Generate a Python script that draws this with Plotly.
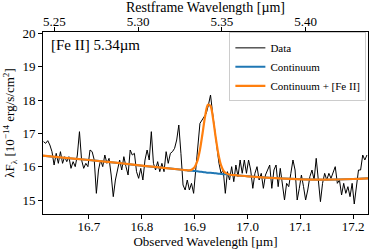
import plotly.graph_objects as go

# Observed wavelength grid [µm]
wave = [
    16.614, 16.618, 16.622, 16.626, 16.630, 16.634, 16.638, 16.642, 16.646, 16.650,
    16.654, 16.658, 16.662, 16.666, 16.670, 16.674, 16.678, 16.682, 16.686, 16.690,
    16.694, 16.698, 16.702, 16.706, 16.710, 16.714, 16.718, 16.722, 16.726, 16.730,
    16.734, 16.738, 16.742, 16.746, 16.750, 16.754, 16.758, 16.762, 16.766, 16.770,
    16.774, 16.778, 16.782, 16.786, 16.790, 16.794, 16.798, 16.802, 16.806, 16.810,
    16.814, 16.818, 16.822, 16.826, 16.830, 16.834, 16.838, 16.842, 16.846, 16.850,
    16.854, 16.858, 16.862, 16.866, 16.870, 16.874, 16.878, 16.882, 16.886, 16.890,
    16.894, 16.898, 16.902, 16.906, 16.910, 16.914, 16.918, 16.922, 16.926, 16.930,
    16.934, 16.938, 16.942, 16.946, 16.950, 16.954, 16.958, 16.962, 16.966, 16.970,
    16.974, 16.978, 16.982, 16.986, 16.990, 16.994, 16.998, 17.002, 17.006, 17.010,
    17.014, 17.018, 17.022, 17.026, 17.030, 17.034, 17.038, 17.042, 17.046, 17.050,
    17.054, 17.058, 17.062, 17.066, 17.070, 17.074, 17.078, 17.082, 17.086, 17.090,
    17.094, 17.098, 17.102, 17.106, 17.110, 17.114, 17.118, 17.122, 17.126, 17.130,
    17.134, 17.138, 17.142, 17.146, 17.150, 17.154, 17.158, 17.162, 17.166, 17.170,
    17.174, 17.178, 17.182, 17.186, 17.190, 17.194, 17.198, 17.202, 17.206, 17.210,
    17.214, 17.218, 17.222, 17.226,
]

# Observed flux  λF_λ [1e-14 erg/s/cm^2]
flux = [
    16.75, 16.70, 16.78, 16.65, 16.45, 16.05, 16.40, 16.10, 16.45, 16.10,
    16.30, 16.15, 16.30, 15.95, 16.15, 16.00, 16.35, 17.05, 16.20, 15.95,
    16.10, 16.00, 16.50, 16.45, 16.20, 15.20, 15.90, 16.20, 16.00, 16.35,
    16.10, 16.25, 15.75, 15.10, 15.60, 15.95, 16.20, 15.90, 16.30, 16.00,
    15.75, 16.50, 16.35, 16.40, 15.85, 15.65, 15.95, 15.60, 16.20, 16.50,
    16.20, 17.05, 16.10, 15.90, 16.15, 15.85, 16.10, 15.85, 16.45, 16.10,
    16.40, 16.45, 16.55, 16.80, 17.25, 16.40, 15.45, 15.30, 15.60, 15.30,
    15.50, 15.20, 15.90, 16.80, 17.30, 17.40, 17.50, 17.60, 17.85, 18.15,
    17.60, 17.00, 16.60, 16.10, 15.80, 15.90, 15.20, 15.85, 15.60, 16.00,
    15.55, 16.05, 15.70, 16.20, 15.80, 16.20, 15.80, 16.20, 15.90, 15.35,
    15.80, 16.00, 15.60, 15.80, 15.35, 15.75, 15.90, 16.05, 15.35, 15.90,
    16.05, 15.40, 15.95, 15.40, 15.00, 15.50, 15.40, 15.80, 16.20, 15.90,
    15.00, 15.35, 15.75, 15.40, 15.00, 15.30, 15.70, 15.90, 15.60, 16.25,
    15.60, 14.95, 15.50, 15.80, 15.60, 15.80, 15.65, 15.85, 16.00, 15.50,
    15.60, 15.15, 15.50, 15.20, 15.40, 15.10, 15.50, 14.88, 15.40, 15.90,
    15.90, 16.35, 16.20, 16.35,
]

# Model grid and fitted components
model_wave = [
    16.613, 16.65, 16.70, 16.75, 16.80, 16.85, 16.88,
    16.885, 16.89, 16.895, 16.90, 16.905, 16.91, 16.915, 16.92, 16.925,
    16.93, 16.935, 16.94, 16.945, 16.95, 16.955, 16.96, 16.965, 16.97,
    16.98, 17.00, 17.05, 17.10, 17.15, 17.20, 17.228,
]
continuum = [
    16.33, 16.27, 16.20, 16.12, 16.03, 15.95, 15.90,
    15.89, 15.88, 15.88, 15.87, 15.86, 15.85, 15.84, 15.83, 15.82,
    15.82, 15.81, 15.80, 15.79, 15.78, 15.77, 15.77, 15.76, 15.75,
    15.74, 15.71, 15.66, 15.62, 15.61, 15.63, 15.65,
]
fe_line = [
    0.0, 0.0, 0.0, 0.0, 0.0, 0.0, 0.0,
    0.002, 0.009, 0.036, 0.116, 0.306, 0.66, 1.17, 1.705, 2.04,
    2.0, 1.61, 1.06, 0.575, 0.256, 0.093, 0.028, 0.007, 0.0,
    0.0, 0.0, 0.0, 0.0, 0.0, 0.0, 0.0,
]
total = [c + f for c, f in zip(continuum, fe_line)]

obs_range = [16.613, 17.228]
z_factor = 3.1685  # (1+z): observed / rest
rest_range = [v / z_factor for v in obs_range]

x_ticks = [16.7, 16.8, 16.9, 17.0, 17.1, 17.2]
rest_ticks = [5.25, 5.30, 5.35, 5.40]
y_ticks = [15, 16, 17, 18, 19, 20]

FONT = "Liberation Serif"

fig = go.Figure()
fig.add_trace(go.Scatter(x=wave, y=flux, mode="lines", name="Data",
                         line=dict(color="black", width=1)))
fig.add_trace(go.Scatter(x=model_wave, y=continuum, mode="lines", name="Continuum",
                         line=dict(color="#1f77b4", width=2, shape="spline", smoothing=0.8)))
fig.add_trace(go.Scatter(x=model_wave, y=total, mode="lines", name="Continuum + [Fe II]",
                         line=dict(color="#ff7f0e", width=2.2, shape="spline", smoothing=0.8)))
fig.add_trace(go.Scatter(x=rest_range, y=[None, None], xaxis="x2", mode="lines",
                         showlegend=False, hoverinfo="skip"))

axis_common = dict(showgrid=False, zeroline=False, ticks="outside", ticklen=4,
                   tickwidth=1, tickcolor="black", showline=True, linecolor="black",
                   linewidth=1, tickfont=dict(family=FONT, size=13, color="black"))

fig.update_layout(
    width=374, height=249,
    margin=dict(l=43, r=6, t=32, b=35),
    paper_bgcolor="white", plot_bgcolor="white",
    font=dict(family=FONT, size=13, color="black"),
    xaxis=dict(range=obs_range, tickvals=x_ticks, ticktext=[f"{v:.1f}" for v in x_ticks],
               mirror=True, automargin=False, ticklabelstandoff=-4,
               title=dict(text="Observed Wavelength [µm]", font=dict(size=13), standoff=0),
               **axis_common),
    xaxis2=dict(range=rest_range, overlaying="x", side="top", anchor="y",
                tickvals=rest_ticks, ticktext=[f"{v:.2f}" for v in rest_ticks],
                automargin=False, ticklabelstandoff=-4,
                title=dict(text="Restframe Wavelength [µm]", font=dict(size=14), standoff=0),
                **axis_common),
    yaxis=dict(range=[14.58, 20.04], tickvals=y_ticks, mirror=True, automargin=False,
               title=dict(text="λF<sub>λ</sub> [10<sup>−14</sup> erg/s/cm<sup>2</sup>]",
                          font=dict(size=13), standoff=4),
               **axis_common),
    legend=dict(x=0.995, y=0.998, xanchor="right", yanchor="top",
                bgcolor="rgba(255,255,255,0.8)", bordercolor="#cccccc", borderwidth=1,
                font=dict(family=FONT, size=11, color="black"),
                itemwidth=30, tracegroupgap=0),
    annotations=[dict(text="[Fe II] 5.34µm", xref="paper", yref="paper",
                      x=0.018, y=0.93, xanchor="left", yanchor="middle",
                      showarrow=False, font=dict(family=FONT, size=15, color="black"))],
    showlegend=True,
)

fig.write_html("out.html", config={"displayModeBar": False},
               post_script="document.body.style.margin='0';")
